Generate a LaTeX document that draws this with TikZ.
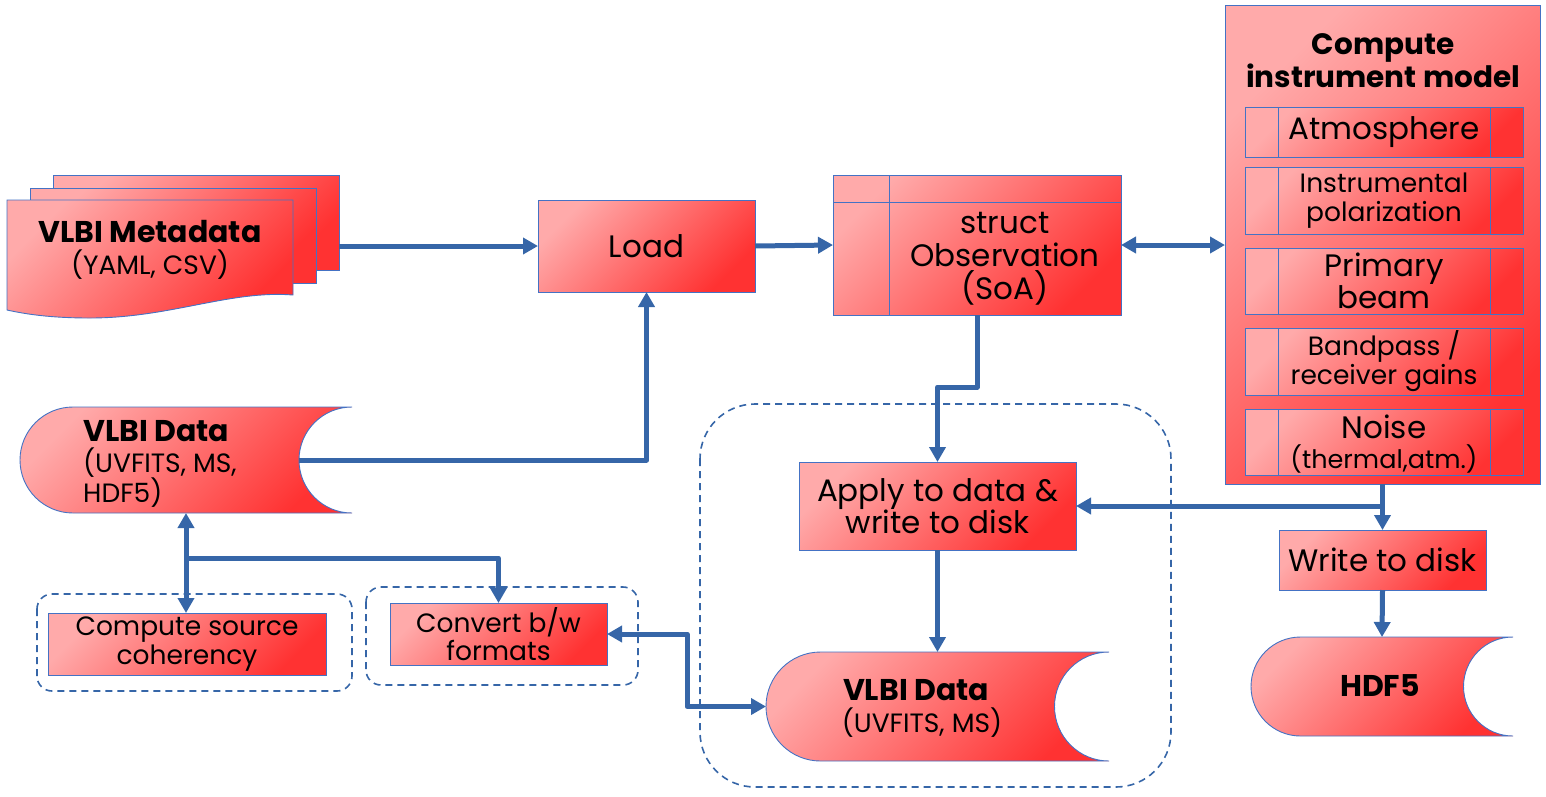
\documentclass[tikz,border=0pt]{standalone}
\usepackage{fontspec}
\setmainfont{Poppins}
\usetikzlibrary{arrows.meta,calc}
\definecolor{pinkl}{RGB}{255,170,170}
\definecolor{redd}{RGB}{255,50,50}
\definecolor{bord}{RGB}{68,114,196}
\definecolor{conncol}{RGB}{54,102,168}
\begin{document}
\begin{tikzpicture}[x=1pt,y=-1pt,
  redfill/.style={draw=bord, line width=0.9pt, top color=pinkl, bottom color=redd, shading angle=45},
  box/.style={redfill, anchor=north west, inner sep=0pt, outer sep=0pt},
  ghost/.style={anchor=north west, inner sep=0pt, outer sep=0pt},
  conn/.style={draw=conncol, line width=5pt, line join=round, -{Triangle[length=15pt,width=16pt]}},
  conn2/.style={draw=conncol, line width=5pt, line join=round, {Triangle[length=15pt,width=16pt]}-{Triangle[length=15pt,width=16pt]}},
  grp/.style={draw=conncol, line width=1.6pt, dash pattern=on 7pt off 5pt},
  big/.style={font=\fontsize{31}{32}\selectfont, align=center, inner sep=0pt},
  small/.style={font=\fontsize{26.5}{29}\selectfont, align=center, inner sep=0pt},
  bigb/.style={font=\fontsize{30}{33}\selectfont\bfseries, align=center, inner sep=0pt},
  sub/.style={box, minimum width=278pt, path picture={\draw[bord, line width=0.9pt]
     ([xshift=33pt]path picture bounding box.north west) -- ([xshift=33pt]path picture bounding box.south west)
     ([xshift=-33pt]path picture bounding box.north east) -- ([xshift=-33pt]path picture bounding box.south east);}},
  ]
\useasboundingbox (0,0) rectangle (1546,796);

% dashed groups
\draw[grp, rounded corners=15pt] (37,594) rectangle (352,691);
\draw[grp, rounded corners=15pt] (366,587) rectangle (638,685);
\draw[grp, rounded corners=55pt] (700,404) rectangle (1171,787);

% metadata stack
\draw[redfill] (53,175) rectangle (339,270);
\draw[redfill] (30,188) rectangle (316,283);
\draw[redfill] (7,200) -- (293,200) -- (293,295) .. controls (230,290) and (170,318) .. (90,318) .. controls (50,318) and (25,314) .. (7,310) -- cycle;
\node[ghost, minimum width=286pt, minimum height=95pt] (meta) at (53,175) {};
\node[bigb] (metat) at (150,232) {VLBI Metadata};
\node[small] (metas) at (150,265) {(YAML, CSV)};

% Load
\node[box, minimum width=217pt, minimum height=92pt, big] (load) at (538,200) {Load};

% struct Observation
\node[box, minimum width=288pt, minimum height=140pt, path picture={\draw[bord, line width=0.9pt]
   ([xshift=56pt]path picture bounding box.north west) -- ([xshift=56pt]path picture bounding box.south west)
   ([yshift=-27pt]path picture bounding box.north west) -- ([yshift=-27pt]path picture bounding box.north east);}] (obs) at (833,175) {};
\node[big, font=\fontsize{31}{33}\selectfont] (obst) at (1005,259) {struct\\Observation\\(SoA)};

% instrument model
\node[box, minimum width=315pt, minimum height=479pt] (model) at (1225,5) {};
\node[bigb, font=\fontsize{29.5}{33}\selectfont\bfseries] (modelt) at (1383,61) {Compute\\instrument model};
\node[sub, minimum height=50pt, big] (atm) at (1245,107) {Atmosphere};
\node[sub, minimum height=67pt, small] (pol) at (1245,167) {Instrumental\\polarization};
\node[sub, minimum height=66pt, big] (beam) at (1245,248) {Primary\\beam};
\node[sub, minimum height=67pt, small] (band) at (1245,328) {Bandpass /\\receiver gains};
\node[sub, minimum height=66pt] (noise) at (1245,409) {};
\node[big] (noiset) at (1384,427) {Noise};
\node[small, font=\fontsize{25.5}{29}\selectfont] (noises) at (1384,459) {(thermal,atm.)};

% Apply
\node[box, minimum width=277pt, minimum height=88pt, big, font=\fontsize{31}{31}\selectfont] (apply) at (799,462) {Apply to data \&\\write to disk};

% Write to disk
\node[box, minimum width=207pt, minimum height=60pt, big] (write) at (1279,530) {Write to disk};

% source coherency and convert
\node[box, minimum width=278pt, minimum height=62pt, small] (coh) at (48,613) {Compute source\\coherency};
\node[box, minimum width=217pt, minimum height=62pt, small, font=\fontsize{26.5}{28}\selectfont] (conv) at (390,603) {Convert b/w\\formats};

% VLBI Data (left)
\draw[redfill] (73,407) -- (352,407) arc[start angle=270,end angle=90,radius=53] -- (73,513) arc[start angle=90,end angle=270,radius=53] -- cycle;
\node[ghost, minimum width=332pt, minimum height=106pt] (vlbiL) at (20,407) {};
\coordinate (vlbiLc) at (299,460);
\node[bigb, anchor=west] (vlbiLt) at (83,431) {VLBI Data};
\node[small, anchor=west] (vlbiLs) at (83,463) {(UVFITS, MS,};
\node[small, anchor=west] (vlbiLh) at (83,493) {HDF5)};

% VLBI Data (bottom)
\draw[redfill] (820.5,652) -- (1109,652) arc[start angle=270,end angle=90,radius=54.5] -- (820.5,761) arc[start angle=90,end angle=270,radius=54.5] -- cycle;
\node[ghost, minimum width=343pt, minimum height=109pt] (vlbiB) at (766,652) {};
\node[bigb] (vlbiBt) at (916,690) {VLBI Data};
\node[small] (vlbiBs) at (922,723) {(UVFITS, MS)};

% HDF5
\draw[redfill] (1300.5,637) -- (1513,637) arc[start angle=270,end angle=90,radius=49.5] -- (1300.5,736) arc[start angle=90,end angle=270,radius=49.5] -- cycle;
\node[ghost, minimum width=262pt, minimum height=99pt] (hdf) at (1251,637) {};
\node[bigb] (hdft) at (1380,686) {HDF5};

% connectors
\draw[conn] (load.west -| meta.east) -- (load.west);
\draw[conn] (load.east) -- (obs.west);
\draw[conn2] (obs.east) -- (obs.east -| model.west);
\draw[conn] (obs.south) -- ++(0,72) -| (apply.north);
\draw[conn] (apply.south) -- (vlbiB.north);
\draw[conn] (model.south) -- (write.north);
\draw[conn] (model.south |- apply.east) -- (apply.east);
\draw[conn] (write.south) -- (hdf.north);
\draw[conn] (vlbiLc) -| (load.south);
\draw[conn2] (vlbiL.south) -- (vlbiL.south |- coh.north);
\draw[conn] ($(vlbiL.south)+(0,45)$) -| (conv.north);
\draw[conn2] (conv.east) -- ++(80,0) |- (vlbiB.west);
\end{tikzpicture}
\end{document}
